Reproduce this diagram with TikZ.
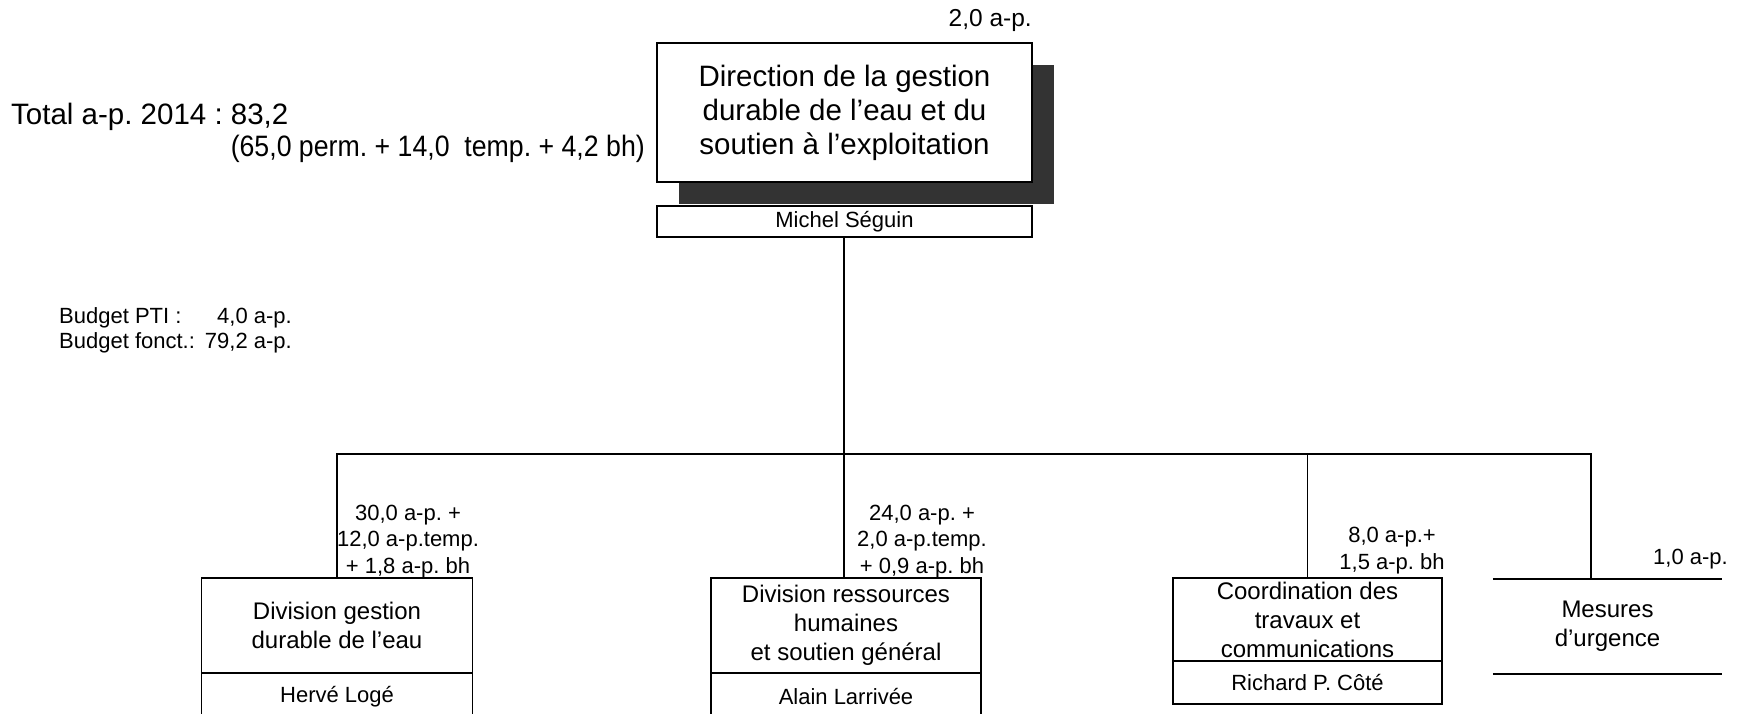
\documentclass[tikz,border=0pt]{standalone}
\usepackage{fontspec}
\usepackage{graphicx}
\setmainfont{Liberation Sans}
\frenchspacing
\definecolor{shadowgray}{HTML}{333333}
\tikzset{
  boxline/.style={line width=1.6pt},
  orgbox/.style={draw, boxline, fill=white, rectangle, inner sep=0pt, align=center},
  bigtxt/.style={font=\fontsize{29.5}{34}\selectfont\frenchspacing},
  midtxt/.style={font=\fontsize{24}{29}\selectfont\frenchspacing},
  smalltxt/.style={font=\fontsize{22}{26.5}\selectfont\frenchspacing},
  plain/.style={inner sep=0pt, align=center},
  conn/.style={boxline}
}
\begin{document}
\begin{tikzpicture}[x=1pt,y=-1pt]
\frenchspacing
\useasboundingbox (0,0) rectangle (1743,713);
\clip (0,0) rectangle (1743,713);

% top box with shadow
\node[fill=shadowgray, minimum width=375pt, minimum height=139pt, inner sep=0pt] (shadow) at (866.5,134.5) {};
\node[orgbox, bigtxt, minimum width=375pt, minimum height=139pt] (main) at (844.5,112.5)
  {Direction de la gestion\\durable de l’eau et du\\soutien à l’exploitation};
\node[orgbox, smalltxt, minimum width=375pt, minimum height=31pt] (michel) at (844.5,221.5) {Michel Séguin};
\node[plain, font=\fontsize{24.5}{29}\selectfont\frenchspacing, anchor=east] (dirap) at (1032,20) {2,0 a-p.};

% totals
\node[plain, bigtxt, anchor=west] (total) at (11,116.5) {Total a-p. 2014 : 83,2};
\node[plain, bigtxt, anchor=east] (detail) at (645,149) {\scalebox{0.905}[1]{(65,0 perm. + 14,0~ temp. + 4,2 bh)}};
\node[plain, smalltxt, anchor=west] (budpti) at (59,318) {Budget PTI :};
\node[plain, smalltxt, anchor=east] (budptiv) at (292,318) {4,0 a-p.};
\node[plain, smalltxt, anchor=west] (budfon) at (59,343) {Budget fonct.:};
\node[plain, smalltxt, anchor=east] (budfonv) at (292,343) {79,2 a-p.};

% division 1
\node[orgbox, midtxt, minimum width=271pt, minimum height=95pt] (d1) at (337,625.5)
  {Division gestion\\durable de l’eau};
\node[orgbox, smalltxt, minimum width=271pt, minimum height=47pt] (d1n) at (337,696.5) {Hervé Logé};
\node[plain, smalltxt] (d1ap) at (408,541.5) {30,0 a-p. +\\12,0 a-p.temp.\\+ 1,8 a-p. bh};

% division 2
\node[orgbox, midtxt, minimum width=270pt, minimum height=95pt] (d2) at (846,625.5)
  {Division ressources\\humaines\\et soutien général};
\node[orgbox, smalltxt, minimum width=270pt, minimum height=47pt] (d2n) at (846,696.5) {Alain Larrivée};
\node[plain, smalltxt] (d2ap) at (922,541.5) {24,0 a-p. +\\2,0 a-p.temp.\\+ 0,9 a-p. bh};

% coordination
\node[orgbox, midtxt, minimum width=269pt, minimum height=83pt] (d3) at (1307.5,619.5)
  {Coordination des\\travaux et\\communications};
\node[orgbox, smalltxt, minimum width=269pt, minimum height=43pt] (d3n) at (1307.5,682.5) {Richard P. Côté};
\node[plain, smalltxt] (d3ap) at (1392,550.5) {8,0 a-p.+\\1,5 a-p. bh};

% mesures d'urgence
\node[plain, midtxt, minimum width=229pt, minimum height=95pt] (mes) at (1607.5,626.5) {Mesures\\d’urgence};
\draw[conn] (mes.north west) -- (mes.north east);
\draw[conn] (mes.south west) -- (mes.south east);
\node[plain, smalltxt, anchor=east] (mesap) at (1728,559) {1,0 a-p.};
\coordinate (mestop) at (1591,579);

% connectors
\coordinate (bus) at (844,454);
\draw[conn] (michel.south -| bus) -- (bus);
\draw[conn] (d1.north) -- (d1.north |- bus) -- (mestop |- bus) -- (mestop);
\draw[conn] (bus) -- (bus |- d2.north);
\draw[conn] (d3.north) -- (d3.north |- bus);
\end{tikzpicture}
\end{document}
